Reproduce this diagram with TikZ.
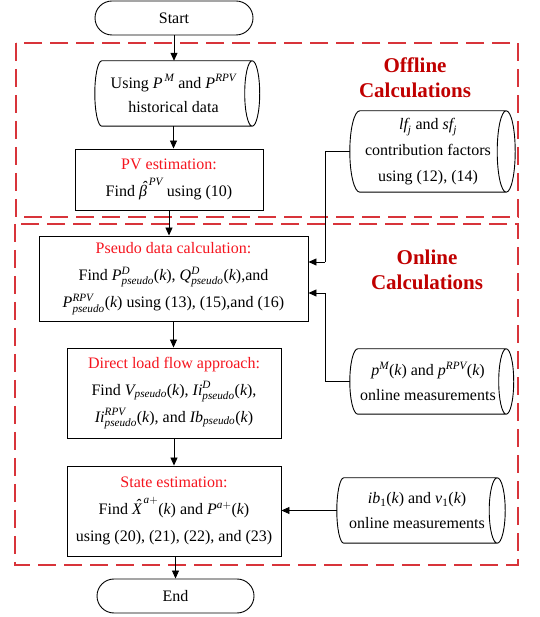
\documentclass[tikz,border=0pt]{standalone}
\usepackage{amsmath}
\usepackage{fontspec}
\setmainfont{Liberation Serif}
\usetikzlibrary{arrows.meta,calc}
\definecolor{redtxt}{HTML}{F5141E}
\definecolor{grpred}{HTML}{D8343A}
\definecolor{lblred}{HTML}{C00000}
\newcommand\mi[1]{\text{\itshape #1}}
\newcommand\kk{\text{(}\mi{k}\text{)}}
\newcommand\rt[1]{\textcolor{redtxt}{#1}}
\newcommand\ihat[1]{\text{\itshape\setbox0\hbox{#1}\makebox[0pt][l]{\makebox[\wd0]{\kern0.15em\raisebox{0.24em}{\char"02C6}}}\box0}}
\newcommand\storeshape[3]{%
  \draw[line] let \p1=(#1.north west), \p2=(#1.south east) in
    (\x1+#2pt,\y1) -- (\x2,\y1) (\x2,\y2) -- (\x1+#2pt,\y2)
    arc[start angle=270,end angle=90,x radius=#2pt,y radius={(\y1-\y2)/2}]
    (#1.east) ellipse[x radius=#3pt,y radius={(\y1-\y2)/2}];}
\tikzset{
  line/.style={draw=black,line width=0.9pt},
  arr/.style={line,-{Triangle[length=8pt,width=7pt]}},
  txt/.style={font=\fontsize{16}{27}\selectfont,align=center,inner sep=0pt},
  term/.style={txt,line,rounded corners=17pt,minimum width=158pt,minimum height=34pt},
  proc/.style={txt,line},
  store/.style={txt},
  grp/.style={draw=grpred,line width=1.3pt,dash pattern=on 18pt off 8pt},
  lbl/.style={font=\fontsize{21}{25}\selectfont\bfseries,text=lblred,align=center,inner sep=0pt}
}
\begin{document}
\begin{tikzpicture}[x=1pt,y=1pt]
\useasboundingbox (0,0) rectangle (539,617);
% groups
\draw[grp] (16,574) rectangle (518,400);
\draw[grp] (15,393) rectangle (518,52);
\node[lbl] (offl) at (415,539.5) {Offline\\Calculations};
\node[lbl] (onl) at (427,347.5) {Online\\Calculations};
% main flow
\node[term] (start) at (174,599) {Start};
\node[store,minimum width=157pt,minimum height=65pt,font=\fontsize{16}{24}\selectfont] (d1) at (173.5,523.5)
  {Using $\mi{P}^{\,\mi{M}}$ and $\mi{P}^{\mi{RPV}}$\\ historical data};
\storeshape{d1}{7}{7.5}
\node[proc,minimum width=188pt,minimum height=61pt] (pv) at (169,437.5)
  {\rt{PV estimation:}\\ Find $\ihat{β}^{\,\mi{PV}}$ using (10)};
\node[proc,minimum width=269pt,minimum height=85pt] (pseudo) at (173.5,338.5)
  {\rt{Pseudo data calculation:}\\
   Find $\mi{P}^{\mi{D}}_{\mi{pseudo}}\kk$, $\mi{Q}^{\mi{D}}_{\mi{pseudo}}\kk$,and\\
   $\mi{P}^{\mi{RPV}}_{\mi{pseudo}}\kk$ using (13), (15),and (16)};
\node[proc,minimum width=214pt,minimum height=90pt] (direct) at (174,224)
  {\rt{Direct load flow approach:}\\
   Find $\mi{V}_{\mi{pseudo}}\kk$, $\mi{Ii}^{\mi{D}}_{\mi{pseudo}}\kk$,\\
   $\mi{Ii}^{\mi{RPV}}_{\mi{pseudo}}\kk$, and $\mi{Ib}_{\mi{pseudo}}\kk$};
\node[proc,minimum width=214pt,minimum height=90pt] (state) at (174,106)
  {\rt{State estimation:}\\
   Find $\ihat{X}^{\,\mi{a}+}\kk$ and $\mi{P}^{\mi{a}+}\kk$\\
   using (20), (21), (22), and (23)};
\node[term,minimum width=157pt] (end) at (175.5,21) {End};
% side data
\node[store,minimum width=156pt,minimum height=81pt,font=\fontsize{16}{26}\selectfont] (lf) at (428,465.5)
  {$\mi{lf}_{\mi{j}}$ and $\mi{sf}_{\mi{j}}$\\ contribution factors\\ using (12), (14)};
\storeshape{lf}{10}{9}
\node[store,minimum width=156pt,minimum height=65pt,font=\fontsize{16}{25}\selectfont] (pm) at (428,235.5)
  {$\mi{p}^{\mi{M}}\kk$ and $\mi{p}^{\mi{RPV}}\kk$\\ online measurements};
\storeshape{pm}{8}{7.5}
\node[store,minimum width=160pt,minimum height=65pt,font=\fontsize{16}{25}\selectfont] (ib) at (417,106.5)
  {$\mi{ib}_{\text{1}}\kk$ and $\mi{v}_{\text{1}}\kk$\\ online measurements};
\storeshape{ib}{7}{8}
% connectors
\draw[arr] (start.south) -- (start.south |- d1.north);
\draw[arr] (d1.south) -- (d1.south |- pv.north);
\draw[arr] (pv.south) -- (pv.south |- pseudo.north);
\draw[arr] (pseudo.south) -- (pseudo.south |- direct.north);
\draw[arr] (direct.south) -- (direct.south |- state.north);
\draw[arr] (end.north |- state.south) -- (end.north);
\coordinate (j1) at (325,355);
\coordinate (j2) at (325,324);
\draw[line] (lf.west) -| (j1);
\draw[arr] (j1) -- (j1 -| pseudo.east);
\draw[line] (pm.west) -| (j2);
\draw[arr] (j2) -- (j2 -| pseudo.east);
\draw[arr] (ib.west) -- (ib.west -| state.east);
\end{tikzpicture}
\end{document}
